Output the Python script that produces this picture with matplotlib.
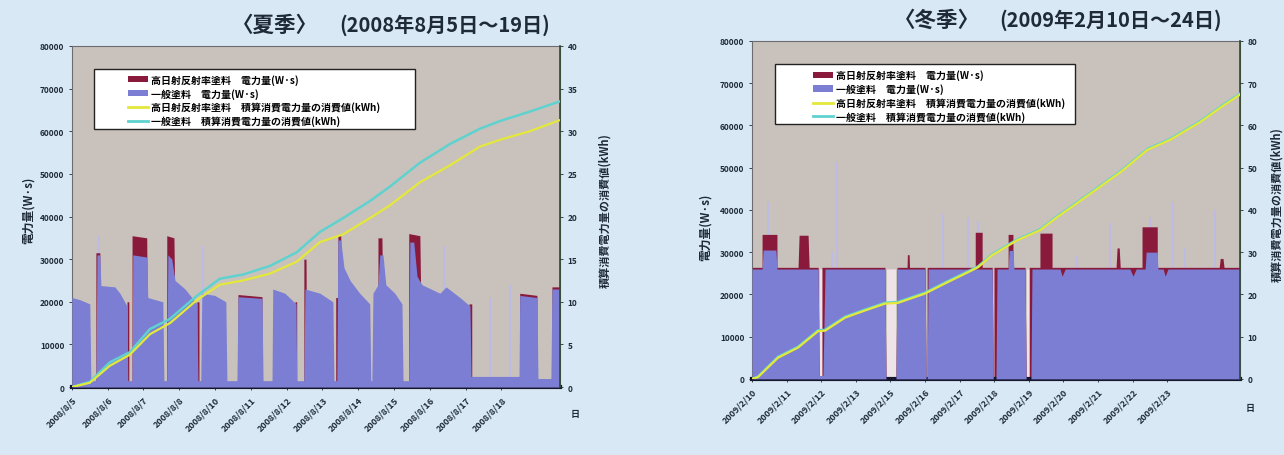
import matplotlib.pyplot as plt
from matplotlib.lines import Line2D
from matplotlib.patches import Patch, Rectangle


OUT_PATH = "out.png"

# x values are in days counted from the first tick label of each panel

SUMMER_TICKS = ["2008/8/5", "2008/8/6", "2008/8/7", "2008/8/8", "2008/8/10",
                "2008/8/11", "2008/8/12", "2008/8/13", "2008/8/14", "2008/8/15",
                "2008/8/16", "2008/8/17", "2008/8/18"]

SUMMER_BLUE_X = [0, 0.22, 0.50, 0.53, 0.67, 0.70, 0.78, 0.81, 1.20, 1.34,
                 1.54, 1.56, 1.68, 1.70, 2.09, 2.12, 2.54, 2.57, 2.65, 2.68,
                 2.79, 2.88, 3.16, 3.49, 3.52, 3.60, 3.63, 3.99, 4.30, 4.33,
                 4.61, 4.64, 5.31, 5.34, 5.59, 5.61, 5.95, 6.26, 6.28, 6.48,
                 6.51, 6.93, 7.29, 7.32, 7.40, 7.43, 7.51, 7.60, 7.77, 8.04,
                 8.32, 8.35, 8.38, 8.41, 8.55, 8.60, 8.69, 8.77, 9.02, 9.22,
                 9.25, 9.41, 9.44, 9.55, 9.64, 9.78, 10.28, 10.45, 10.84, 11.12,
                 11.15, 12.49, 12.51, 12.99, 13.02, 13.38, 13.41, 13.63]
SUMMER_BLUE_W = [21000, 20500, 19500, 1500, 1500, 31000, 31000, 23800, 23500, 22000,
                 19000, 1500, 1500, 31000, 30500, 21000, 20000, 1500, 1500, 31000,
                 30000, 25000, 23000, 19500, 1500, 1500, 22000, 21500, 20000, 1500,
                 1500, 21200, 20800, 1500, 1500, 23000, 22000, 19500, 1500, 1500,
                 23000, 22000, 20000, 1500, 1500, 34500, 34500, 28000, 25000, 22000,
                 19500, 1500, 1500, 22000, 24000, 31000, 31000, 24000, 22000, 19500,
                 1500, 1500, 34000, 34000, 26000, 24000, 22000, 23500, 21000, 19000,
                 2500, 2500, 21500, 21000, 2000, 2000, 23000, 23000]

SUMMER_RED_X = [0,
                0.67, 0.67, 0.78, 0.81,
                1.54, 1.54, 1.59, 1.59,
                1.68, 1.68, 2.09, 2.12,
                2.65, 2.65, 2.85, 2.91,
                3.49, 3.49, 3.55, 3.55,
                4.64, 4.64, 5.31, 5.31,
                6.23, 6.23, 6.28, 6.28,
                6.48, 6.48, 6.54, 6.56,
                7.37, 7.37, 7.43, 7.43, 7.51, 7.57,
                8.55, 8.55, 8.66, 8.72,
                9.41, 9.41, 9.72, 9.78,
                11.09, 11.09, 11.17, 11.17,
                12.51, 12.51, 12.99, 12.99,
                13.41, 13.41, 13.63]
SUMMER_RED_W = [0,
                0, 31500, 31500, 0,
                0, 20000, 20000, 0,
                0, 35500, 35000, 0,
                0, 35500, 35000, 0,
                0, 20000, 20000, 0,
                0, 21700, 21200, 0,
                0, 20000, 20000, 0,
                0, 30000, 30000, 0,
                0, 21000, 21000, 35500, 35500, 0,
                0, 35000, 35000, 0,
                0, 36000, 35500, 0,
                0, 19500, 19500, 0,
                0, 22000, 21500, 0,
                0, 23500, 23500]

SUMMER_SPIKE_X = [0.75, 3.66, 10.39, 11.68, 12.23]
SUMMER_SPIKE_W = [35500, 33000, 33000, 21000, 24000]

SUMMER_CUM_X = [0, 0.50, 1.06, 1.62, 2.18, 2.74, 3.49, 4.13, 4.78, 5.53, 6.28,
                6.93, 7.57, 8.32, 8.88, 9.72, 10.56, 11.40, 11.96, 12.79, 13.63]
SUMMER_CUM_GENERAL = [0, 0.6, 2.9, 4.1, 6.8, 8.0, 10.7, 12.7, 13.2, 14.2, 15.8,
                      18.2, 19.8, 21.8, 23.5, 26.3, 28.5, 30.3, 31.2, 32.3, 33.5]
SUMMER_CUM_HIGH = [0, 0.5, 2.5, 3.8, 6.2, 7.5, 10.2, 12.0, 12.5, 13.3, 14.7,
                   17.0, 17.9, 19.8, 21.3, 24.0, 26.0, 28.2, 29.0, 30.0, 31.3]

WINTER_TICKS = ["2009/2/10", "2009/2/11", "2009/2/12", "2009/2/13", "2009/2/15",
                "2009/2/16", "2009/2/17", "2009/2/18", "2009/2/19", "2009/2/20",
                "2009/2/21", "2009/2/22", "2009/2/23"]

WINTER_BLUE_X = [0, 0.29, 0.32, 0.69, 0.72, 1.91, 1.94, 2.05, 2.11, 3.84,
                 3.87, 4.16, 4.19, 5.00, 5.03, 5.06, 5.09, 6.94, 6.97, 7.05,
                 7.08, 7.40, 7.43, 7.54, 7.57, 7.89, 7.92, 8.06, 8.09, 8.90,
                 8.96, 9.05, 10.92, 11.01, 11.10, 11.36, 11.39, 11.71, 11.73, 11.88,
                 11.94, 12.02, 14.10]
WINTER_BLUE_W = [26000, 26000, 30500, 30500, 26000, 26000, 800, 800, 26000, 26000,
                 0, 0, 26000, 26000, 0, 0, 26000, 26000, 0, 0,
                 26000, 26000, 30400, 30400, 26000, 26000, 0, 0, 26000, 26000,
                 24300, 26000, 26000, 24300, 26000, 26000, 30000, 30000, 26000, 26000,
                 24300, 26000, 26000]

WINTER_RED_X = [0, 0.29, 0.29, 0.72, 0.72, 1.33, 1.36, 1.62, 1.65, 1.91,
                1.94, 2.02, 2.02, 3.84, 3.87, 4.16, 4.19, 4.48, 4.49, 4.54,
                4.55, 5.00, 5.03, 5.06, 5.06, 6.45, 6.45, 6.65, 6.65, 6.94,
                6.97, 6.99, 6.99, 7.40, 7.40, 7.54, 7.54, 7.89, 7.92, 8.01,
                8.01, 8.32, 8.32, 8.67, 8.67, 10.52, 10.55, 10.61, 10.64, 11.27,
                11.27, 11.71, 11.71, 13.50, 13.53, 13.61, 13.64, 14.10]
WINTER_RED_W = [26400, 26400, 34200, 34200, 26400, 26400, 34000, 34000, 26400, 26400,
                0, 0, 26400, 26400, 0, 0, 26400, 26400, 29400, 29400,
                26400, 26400, 0, 0, 26400, 26400, 34700, 34700, 26400, 26400,
                0, 0, 26400, 26400, 34200, 34200, 26400, 26400, 0, 0,
                26400, 26400, 34500, 34500, 26400, 26400, 31000, 31000, 26400, 26400,
                36000, 36000, 26400, 26400, 28500, 28500, 26400, 26400]

WINTER_SPIKE_X = [0.46, 2.31, 2.46, 5.52, 6.24, 6.53, 9.39, 10.35, 11.50, 12.17, 12.51, 13.38]
WINTER_SPIKE_W = [41800, 30000, 51300, 39000, 38000, 37300, 29000, 37000, 38000, 41800, 31000, 40000]

WINTER_GAP_X = [1.98, 3.92, 3.98, 4.04, 4.10, 7.02, 7.97]
WINTER_GAP_W = [26000, 26000, 26000, 26000, 26000, 26000, 26000]

WINTER_CUM_X = [0, 0.17, 0.75, 1.33, 1.91, 2.11, 2.69, 3.27, 3.84, 4.22, 5.00, 5.58,
                6.53, 6.94, 7.66, 8.32, 8.82, 9.77, 10.72, 11.42, 12.08, 12.95, 13.53, 14.10]
WINTER_CUM_GENERAL = [0, 0.5, 5.2, 7.6, 11.5, 11.6, 14.7, 16.4, 18.0, 18.2, 20.4, 22.8,
                      26.6, 29.5, 33.0, 35.4, 38.5, 44.0, 49.6, 54.4, 56.8, 61.0, 64.4, 67.5]
WINTER_CUM_HIGH = [0, 0.4, 5.0, 7.4, 11.3, 11.4, 14.5, 16.2, 17.8, 18.0, 20.2, 22.6,
                   26.4, 29.3, 32.8, 35.2, 38.3, 43.8, 49.4, 54.2, 56.6, 60.8, 64.2, 67.3]

LEGEND_LABELS = ["高日射反射率塗料　電力量(W·s)",
                 "一般塗料　電力量(W·s)",
                 "高日射反射率塗料　積算消費電力量の消費値(kWh)",
                 "一般塗料　積算消費電力量の消費値(kWh)"]

BG = "#d8e8f5"
PLOT_BG = "#c9c2bc"
BLUE = "#7b7ed3"
RED = "#8a1a3c"
PALE = "#bdbbe6"
YELLOW = "#e4e83a"
CYAN = "#5fd2cf"
TEXT = "#1f2a38"


def draw_panel(fig, rect, p):
    ax = fig.add_axes(rect)
    ax.set_facecolor(PLOT_BG)

    ax.vlines(p["gap_x"], 0, p["gap_w"], color="#eee3e6", lw=2.2, zorder=1)
    ax.vlines(p["spike_x"], 0, p["spike_w"], color=PALE, lw=1.4, zorder=1)
    ax.fill_between(p["red_x"], p["red_w"], 0, color=RED, lw=0, zorder=2)
    ax.fill_between(p["blue_x"], p["blue_w"], 0, color=BLUE, lw=0, zorder=3)

    ax.set_xlim(0, p["xmax"])
    ax.set_ylim(0, 80000)
    ax.set_yticks(range(0, 80001, 10000))
    ax.set_xticks(range(len(p["ticks"])))
    ax.set_xticklabels(p["ticks"], rotation=45, ha="right", rotation_mode="anchor")
    ax.tick_params(axis="y", labelsize=6, colors=TEXT, length=2, width=0.6)
    ax.tick_params(axis="x", labelsize=6.5, colors=TEXT, length=2, width=0.6)
    for lab in ax.get_xticklabels() + ax.get_yticklabels():
        lab.set_fontweight("bold")
    ax.set_ylabel("電力量(W·s)", fontsize=8.5, fontweight="bold", color=TEXT)
    ax.yaxis.set_label_coords(p["ylab_x"], p["ylab_y"])

    for side in ["top", "right", "left"]:
        ax.spines[side].set_color("#6b6b70")
        ax.spines[side].set_linewidth(0.8)
    ax.spines["bottom"].set_color("#16162e")
    ax.spines["bottom"].set_linewidth(3)

    ax2 = ax.twinx()
    ax2.plot(p["cum_x"], p["cum_general"], color=CYAN, lw=1.8, zorder=4)
    ax2.plot(p["cum_x"], p["cum_high"], color=YELLOW, lw=1.6, zorder=5)
    ax2.set_ylim(0, p["ymax2"])
    ax2.set_yticks(range(0, p["ymax2"] + 1, p["ystep2"]))
    ax2.tick_params(axis="y", labelsize=6, colors=TEXT, length=2, width=0.6)
    for lab in ax2.get_yticklabels():
        lab.set_fontweight("bold")
    ax2.set_ylabel("積算消費電力量の消費値(kWh)", fontsize=8, fontweight="bold",
                   color=TEXT, rotation=90)
    ax2.yaxis.set_label_coords(p["ylab2_x"], p["ylab2_y"])
    for side in ["top", "left", "bottom"]:
        ax2.spines[side].set_visible(False)
    ax2.spines["right"].set_color("#2f4a2f")
    ax2.spines["right"].set_linewidth(1.2)

    # white legend box with the entries indented inside it
    bx0, by0, bx1, by1 = p["legend_box"]
    ax2.add_patch(Rectangle((bx0, by0), bx1 - bx0, by1 - by0, transform=ax2.transAxes,
                            facecolor="white", edgecolor="#222222", lw=1.0, zorder=6))
    handles = [Patch(facecolor=RED), Patch(facecolor=BLUE),
               Line2D([], [], color=YELLOW, lw=2), Line2D([], [], color=CYAN, lw=2)]
    leg = ax2.legend(handles, LEGEND_LABELS, loc="upper left",
                     bbox_to_anchor=p["legend_anchor"], frameon=False,
                     prop={"size": 7.2, "weight": "bold"}, labelspacing=0.3,
                     handlelength=2.0, handleheight=0.6, handletextpad=0.3,
                     borderpad=0, borderaxespad=0)
    leg.set_zorder(7)
    return ax, ax2


def main():
    plt.rcParams["font.family"] = ["Noto Sans CJK JP", "DejaVu Sans"]

    fig = plt.figure(figsize=(12.84, 4.56), dpi=100, facecolor=BG)

    summer = dict(ticks=SUMMER_TICKS, xmax=13.63,
                  blue_x=SUMMER_BLUE_X, blue_w=SUMMER_BLUE_W,
                  red_x=SUMMER_RED_X, red_w=SUMMER_RED_W,
                  spike_x=SUMMER_SPIKE_X, spike_w=SUMMER_SPIKE_W,
                  gap_x=[], gap_w=[],
                  cum_x=SUMMER_CUM_X, cum_general=SUMMER_CUM_GENERAL,
                  cum_high=SUMMER_CUM_HIGH, ymax2=40, ystep2=5,
                  ylab_x=-0.076, ylab_y=0.52, ylab2_x=1.078, ylab2_y=0.52,
                  legend_box=(0.045, 0.757, 0.703, 0.933),
                  legend_anchor=(0.115, 0.918))
    winter = dict(ticks=WINTER_TICKS, xmax=14.10,
                  blue_x=WINTER_BLUE_X, blue_w=WINTER_BLUE_W,
                  red_x=WINTER_RED_X, red_w=WINTER_RED_W,
                  spike_x=WINTER_SPIKE_X, spike_w=WINTER_SPIKE_W,
                  gap_x=WINTER_GAP_X, gap_w=WINTER_GAP_W,
                  cum_x=WINTER_CUM_X, cum_general=WINTER_CUM_GENERAL,
                  cum_high=WINTER_CUM_HIGH, ymax2=80, ystep2=10,
                  ylab_x=-0.082, ylab_y=0.45, ylab2_x=1.062, ylab2_y=0.52,
                  legend_box=(0.047, 0.754, 0.662, 0.932),
                  legend_anchor=(0.125, 0.915))

    draw_panel(fig, [0.056, 0.149, 0.380, 0.748], summer)
    draw_panel(fig, [0.5857, 0.167, 0.380, 0.741], winter)

    fig.text(0.214, 0.945, "〈夏季〉", fontsize=15.5, fontweight="bold", color=TEXT,
             ha="center", va="center")
    fig.text(0.346, 0.945, "(2008年8月5日〜19日)", fontsize=14.5, fontweight="bold",
             color=TEXT, ha="center", va="center")
    fig.text(0.730, 0.956, "〈冬季〉", fontsize=15.5, fontweight="bold", color=TEXT,
             ha="center", va="center")
    fig.text(0.865, 0.956, "(2009年2月10日〜24日)", fontsize=14.5, fontweight="bold",
             color=TEXT, ha="center", va="center")
    fig.text(0.448, 0.09, "日", fontsize=6.5, fontweight="bold", color=TEXT,
             ha="center", va="center")
    fig.text(0.9735, 0.105, "日", fontsize=6.5, fontweight="bold", color=TEXT,
             ha="center", va="center")

    fig.savefig(OUT_PATH, dpi=100, facecolor=BG)


if __name__ == "__main__":
    main()
